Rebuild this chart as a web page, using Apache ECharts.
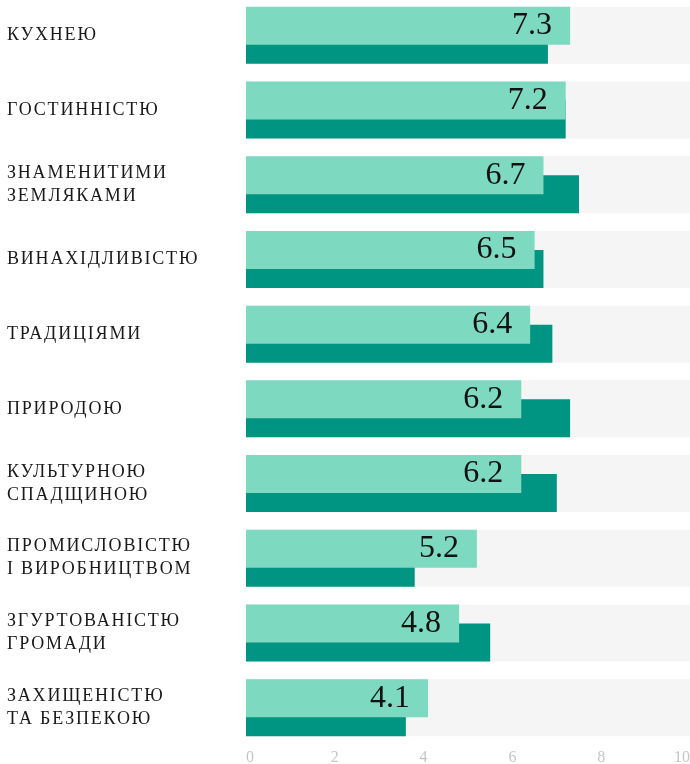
<!DOCTYPE html>
<html>
<head>
<meta charset="utf-8">
<script src="https://cdn.jsdelivr.net/npm/echarts@6/dist/echarts.min.js"></script>
<style>
  html, body { margin: 0; padding: 0; background: #fff; overflow: hidden; }
  #chart { width: 690px; height: 766px; margin-top: -2px; }
</style>
</head>
<body>
<div id="chart"></div>
<script>
const categories = [
  'КУХНЕЮ',
  'ГОСТИННІСТЮ',
  'ЗНАМЕНИТИМИ\nЗЕМЛЯКАМИ',
  'ВИНАХІДЛИВІСТЮ',
  'ТРАДИЦІЯМИ',
  'ПРИРОДОЮ',
  'КУЛЬТУРНОЮ\nСПАДЩИНОЮ',
  'ПРОМИСЛОВІСТЮ\nІ ВИРОБНИЦТВОМ',
  'ЗГУРТОВАНІСТЮ\nГРОМАДИ',
  'ЗАХИЩЕНІСТЮ\nТА БЕЗПЕКОЮ'
];
const lightValues = [7.3, 7.2, 6.7, 6.5, 6.4, 6.2, 6.2, 5.2, 4.8, 4.1];
const darkValues  = [6.8, 7.2, 7.5, 6.7, 6.9, 7.3, 7.0, 3.8, 5.5, 3.6];
const axisMax = 10;
const tickStep = 2;
const bgValues = categories.map(() => axisMax);

const SERIF = 'Liberation Serif';

// letter spacing for category labels (18px) on canvas
(function () {
  const proto = CanvasRenderingContext2D.prototype;
  const orig = proto.fillText;
  proto.fillText = function (t, x, y, w) {
    if ('letterSpacing' in this) {
      const prev = this.letterSpacing;
      this.letterSpacing = /(^|\s)18px/.test(this.font) ? '1.8px' : '0px';
      const r = w === undefined ? orig.call(this, t, x, y) : orig.call(this, t, x, y, w);
      this.letterSpacing = prev;
      return r;
    }
    return w === undefined ? orig.call(this, t, x, y) : orig.call(this, t, x, y, w);
  };
})();

const chart = echarts.init(document.getElementById('chart'), null, { renderer: 'canvas' });
chart.setOption({
  animation: false,
  grid: { left: 246, right: 0, top: 0, bottom: 19, containLabel: false, outerBoundsMode: 'none' },
  xAxis: {
    type: 'value', min: 0, max: axisMax, interval: tickStep,
    axisLine: { show: false }, axisTick: { show: false }, splitLine: { show: false },
    axisLabel: {
      color: '#c6c6c6', fontFamily: SERIF, fontSize: 16, margin: 5,
      alignMinLabel: 'left', alignMaxLabel: 'right'
    }
  },
  yAxis: [{
    type: 'category', data: categories, inverse: true,
    axisLine: { show: false }, axisTick: { show: false },
    axisLabel: {
      align: 'left', margin: 239, color: '#1a1a1a',
      fontFamily: SERIF, fontSize: 18, lineHeight: 23,
      padding: [0, 0, 3, 0]
    }
  }, {
    type: 'category', data: categories, inverse: true, show: false
  }],
  series: [
    {
      name: 'bg', type: 'bar', yAxisIndex: 1, data: bgValues, barWidth: 57,
      itemStyle: { color: '#f5f5f5' }, silent: true, z: 1
    },
    {
      name: 'light', type: 'bar', yAxisIndex: 0, data: lightValues, barWidth: 38, barGap: '-50%',
      itemStyle: { color: '#7dd9bf' }, z: 4,
      label: {
        show: true, position: 'insideRight', distance: 18,
        color: '#111', fontFamily: SERIF, fontSize: 32
      }
    },
    {
      name: 'dark', type: 'bar', yAxisIndex: 0, data: darkValues, barWidth: 38, barGap: '-50%',
      itemStyle: { color: '#009482' }, z: 3
    }
  ]
});
</script>
</body>
</html>
